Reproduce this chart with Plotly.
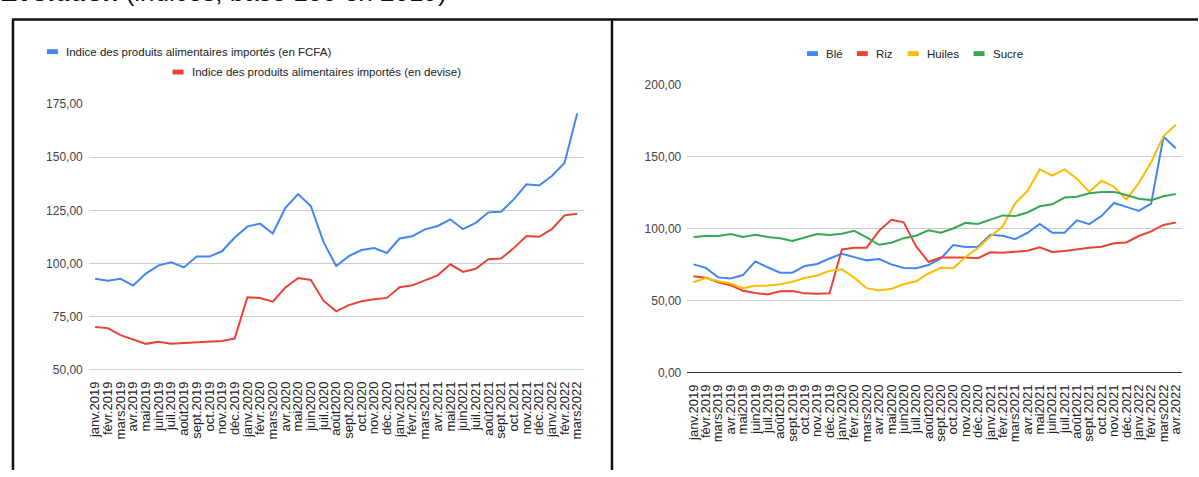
import plotly.graph_objects as go

# Monthly categories
mois_g = ["janv.2019", "févr.2019", "mars2019", "avr.2019", "mai2019", "juin2019", "juil.2019",
          "août2019", "sept.2019", "oct.2019", "nov.2019", "déc.2019", "janv.2020", "févr.2020",
          "mars2020", "avr.2020", "mai2020", "juin2020", "juil.2020", "août2020", "sept.2020",
          "oct.2020", "nov.2020", "déc.2020", "janv.2021", "févr.2021", "mars2021", "avr.2021",
          "mai2021", "juin2021", "juil.2021", "août2021", "sept.2021", "oct.2021", "nov.2021",
          "déc.2021", "janv.2022", "févr.2022", "mars2022"]
mois_d = mois_g + ["avr.2022"]

# Import price indices (left panel)
indice_fcfa = [92.9, 92.0, 92.9, 89.7, 95.3, 99.2, 100.6, 98.2, 103.3, 103.3, 105.8, 112.3,
               117.4, 118.8, 114.2, 126.2, 132.7, 127.1, 110.2, 98.9, 103.5, 106.4, 107.3, 105.0,
               111.8, 112.9, 116.1, 117.7, 120.8, 116.2, 119.2, 124.1, 124.4, 130.2, 137.3, 136.7,
               141.2, 147.3, 170.6]
indice_devise = [70.2, 69.7, 66.4, 64.5, 62.3, 63.3, 62.3, 62.7, 63.0, 63.3, 63.6, 64.8,
                 84.2, 83.8, 82.1, 88.8, 93.2, 92.3, 82.6, 77.6, 80.5, 82.3, 83.3, 83.9,
                 88.9, 89.8, 92.3, 94.5, 99.7, 96.1, 97.6, 102.1, 102.4, 107.3, 113.0, 112.6,
                 116.2, 122.7, 123.5]

# Commodity indices (right panel)
ble = [75.3, 72.9, 66.3, 65.6, 67.9, 77.4, 73.3, 69.5, 69.5, 74.2, 75.6, 79.4, 82.6, 80.3,
       78.1, 79.0, 75.3, 72.8, 72.6, 74.9, 79.4, 88.7, 87.3, 87.6, 95.9, 95.2, 92.8, 97.1,
       103.4, 97.3, 97.3, 105.9, 103.2, 109.0, 117.9, 115.2, 112.4, 117.4, 163.8, 155.9]
riz = [67.0, 66.1, 62.9, 60.9, 57.0, 55.4, 54.5, 56.6, 56.8, 55.2, 55.0, 55.2, 85.7, 86.9,
       86.9, 98.6, 106.3, 104.5, 87.8, 77.1, 80.1, 80.3, 80.1, 79.6, 83.7, 83.3, 84.2, 84.8,
       87.1, 83.9, 84.6, 86.0, 86.9, 87.6, 90.0, 90.5, 95.0, 98.2, 102.7, 104.3]
huiles = [62.9, 65.8, 63.6, 62.0, 58.8, 60.4, 60.6, 61.6, 63.3, 65.8, 67.6, 70.8, 71.9, 66.1,
          58.8, 57.2, 58.4, 61.5, 63.6, 69.0, 72.9, 72.6, 80.5, 86.7, 94.6, 101.6, 117.6, 126.2,
          141.2, 136.9, 141.2, 134.8, 125.6, 133.3, 129.2, 120.4, 131.7, 146.2, 164.3, 172.2]
sucre = [94.3, 95.0, 95.0, 96.4, 94.3, 95.9, 94.3, 93.4, 91.6, 93.9, 96.4, 95.7, 96.6, 98.6,
         94.1, 88.9, 90.3, 93.5, 95.2, 98.9, 97.3, 100.2, 104.1, 103.4, 106.1, 109.3, 108.8,
         111.3, 115.6, 117.0, 121.7, 122.2, 124.7, 125.6, 125.6, 123.5, 120.8, 119.9, 122.6, 124.2]

BLEU, ROUGE, JAUNE, VERT = "#4285F4", "#EA4335", "#FBBC04", "#34A853"
W, H = 1199, 477
FONT = "Liberation Sans, Arial, sans-serif"


def px(x):
    return x / W


def py(y):
    return 1 - y / H


fig = go.Figure()

fig.add_trace(go.Scatter(x=mois_g, y=indice_fcfa, mode="lines", line=dict(color=BLEU, width=2),
                         name="Indice des produits alimentaires importés (en FCFA)",
                         xaxis="x", yaxis="y", showlegend=False))
fig.add_trace(go.Scatter(x=mois_g, y=indice_devise, mode="lines", line=dict(color=ROUGE, width=2),
                         name="Indice des produits alimentaires importés (en devise)",
                         xaxis="x", yaxis="y", showlegend=False))

for serie, nom, coul in [(ble, "Blé", BLEU), (riz, "Riz", ROUGE),
                         (huiles, "Huiles", JAUNE), (sucre, "Sucre", VERT)]:
    fig.add_trace(go.Scatter(x=mois_d, y=serie, mode="lines", line=dict(color=coul, width=2),
                             name=nom, xaxis="x2", yaxis="y2", showlegend=False))

axe_x = dict(type="category", tickangle=-90, showgrid=False, showline=False, zeroline=False,
             ticks="", ticklabelstandoff=8, tickfont=dict(family=FONT, size=13, color="#222"))
axe_y = dict(showgrid=True, gridcolor="#cccccc", gridwidth=1, showline=False, ticks="",
             tickformat=".2f", ticklabelstandoff=5,
             tickfont=dict(family=FONT, size=12, color="#444"))

fig.update_layout(
    width=W, height=H,
    margin=dict(l=0, r=0, t=0, b=0),
    paper_bgcolor="white", plot_bgcolor="white",
    separators=", ",
    xaxis=dict(axe_x, domain=[px(87), px(583)], range=[-0.5, len(mois_g) - 0.5],
               anchor="y", tickvals=mois_g),
    yaxis=dict(axe_y, domain=[py(374), py(100)], range=[50, 175], dtick=25,
               anchor="x", zeroline=False),
    xaxis2=dict(axe_x, domain=[px(687), px(1183)], range=[-0.5, len(mois_d) - 0.5],
                anchor="y2", tickvals=mois_d),
    yaxis2=dict(axe_y, domain=[py(377), py(80)], range=[0, 200], dtick=50,
                anchor="x2", zeroline=True, zerolinecolor="#333333", zerolinewidth=1),
)

# Left baseline drawn a little heavier than the other gridlines
fig.add_shape(type="line", xref="x domain", yref="y", x0=0, x1=1, y0=50, y1=50,
              line=dict(color="#d0d0d0", width=2))

# Panel frames
cadre = dict(color="#111111", width=2.5)
fig.add_shape(type="line", xref="paper", yref="paper", x0=px(10), x1=1, y0=py(13), y1=py(13), line=cadre)
fig.add_shape(type="line", xref="paper", yref="paper", x0=px(11), x1=px(11), y0=0, y1=py(13), line=cadre)
fig.add_shape(type="line", xref="paper", yref="paper", x0=px(611.5), x1=px(611.5), y0=0, y1=py(13), line=cadre)

# Heading above the panels
fig.add_annotation(xref="paper", yref="paper", x=px(-4), y=py(2), xanchor="left", yanchor="bottom",
                   showarrow=False, align="left",
                   text="<b>Évolution</b> (indices, base 100 en 2019)",
                   font=dict(family=FONT, size=26, color="#111"))

# Legends
def entree(x, y, coul, texte):
    fig.add_shape(type="rect", xref="paper", yref="paper", x0=px(x), x1=px(x + 11),
                  y0=py(y + 2.5), y1=py(y - 2.5), fillcolor=coul, line=dict(width=0))
    fig.add_annotation(xref="paper", yref="paper", x=px(x + 17), y=py(y), xanchor="left",
                       yanchor="middle", showarrow=False, text=texte,
                       font=dict(family=FONT, size=11.5, color="#222"))

entree(45, 46, BLEU, "Indice des produits alimentaires importés (en FCFA)")
entree(171, 67, ROUGE, "Indice des produits alimentaires importés (en devise)")
entree(807, 48, BLEU, "Blé")
entree(857, 48, ROUGE, "Riz")
entree(908, 48, JAUNE, "Huiles")
entree(974, 48, VERT, "Sucre")

fig.write_html("out.html")
